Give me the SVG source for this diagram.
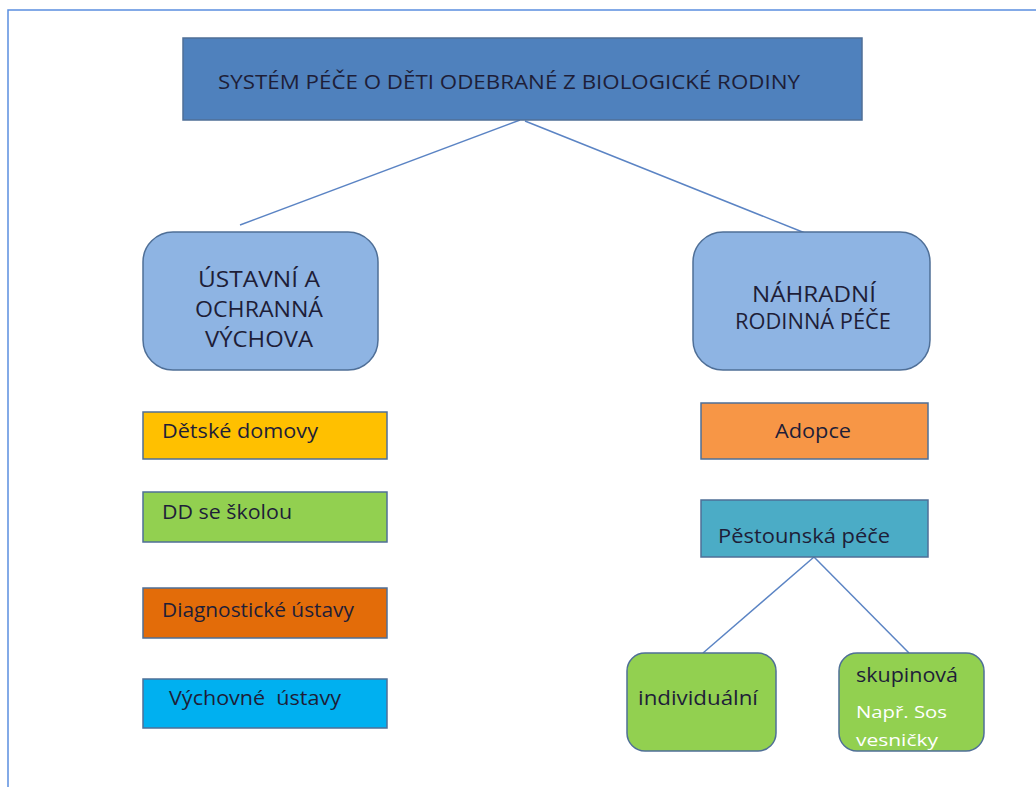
<svg xmlns="http://www.w3.org/2000/svg" width="1036" height="787" viewBox="0 0 1036 787">
<style>
text{font-family:"Open Sans","Noto Sans","Liberation Sans",sans-serif;fill:#1e1e38}
.bx{stroke:#4f6f97;stroke-width:1.5}
.conn line{stroke:#5b84c4;stroke-width:1.5}
.c{text-anchor:middle}
</style>
<rect width="1036" height="787" fill="#ffffff"/>
<path d="M8 787 V10 H1036" fill="none" stroke="#5b8fe0" stroke-width="1.5"/>
<g class="conn">
<line x1="520" y1="120" x2="240" y2="225"/>
<line x1="525" y1="121" x2="805" y2="233"/>
<line x1="814" y1="557" x2="703" y2="653"/>
<line x1="814" y1="557" x2="909" y2="653"/>
</g>
<g id="root">
<rect class="bx" x="183" y="38" width="679" height="82" fill="#4f81bd" stroke="#3d6796"/>
<text x="218" y="89" font-size="20" textLength="582" lengthAdjust="spacingAndGlyphs">SYSTÉM PÉČE O DĚTI ODEBRANÉ Z BIOLOGICKÉ RODINY</text>
</g>
<g id="ustavni">
<rect class="bx" x="143" y="232" width="235" height="138" rx="30" fill="#8eb4e3"/>
<text class="c" x="259" y="287" font-size="21" textLength="122" lengthAdjust="spacingAndGlyphs">ÚSTAVNÍ A</text>
<text class="c" x="259" y="317" font-size="21" textLength="128" lengthAdjust="spacingAndGlyphs">OCHRANNÁ</text>
<text class="c" x="259" y="347" font-size="21" textLength="108" lengthAdjust="spacingAndGlyphs">VÝCHOVA</text>
</g>
<g id="nahradni">
<rect class="bx" x="693" y="232" width="237" height="138" rx="30" fill="#8eb4e3"/>
<text class="c" x="814" y="302" font-size="21" textLength="124" lengthAdjust="spacingAndGlyphs">NÁHRADNÍ</text>
<text class="c" x="813" y="329" font-size="21" textLength="156" lengthAdjust="spacingAndGlyphs">RODINNÁ PÉČE</text>
</g>
<g id="detske">
<rect class="bx" x="143" y="412" width="244" height="47" fill="#ffc000"/>
<text x="162" y="438" font-size="20" textLength="156" lengthAdjust="spacingAndGlyphs">Dětské domovy</text>
</g>
<g id="ddskola">
<rect class="bx" x="143" y="492" width="244" height="50" fill="#92d050"/>
<text x="162" y="519" font-size="20" textLength="130" lengthAdjust="spacingAndGlyphs">DD se školou</text>
</g>
<g id="diag">
<rect class="bx" x="143" y="588" width="244" height="50" fill="#e36c09"/>
<text x="162" y="617" font-size="20" textLength="192" lengthAdjust="spacingAndGlyphs">Diagnostické ústavy</text>
</g>
<g id="vychovne">
<rect class="bx" x="143" y="679" width="244" height="49" fill="#00b0f0"/>
<text x="169" y="705" font-size="20" textLength="172" lengthAdjust="spacingAndGlyphs" xml:space="preserve">Výchovné  ústavy</text>
</g>
<g id="adopce">
<rect class="bx" x="701" y="403" width="227" height="56" fill="#f79646"/>
<text class="c" x="813" y="438" font-size="20" textLength="76" lengthAdjust="spacingAndGlyphs">Adopce</text>
</g>
<g id="pestounska">
<rect class="bx" x="701" y="500" width="227" height="57" fill="#4bacc6"/>
<text x="718" y="543" font-size="20" textLength="172" lengthAdjust="spacingAndGlyphs">Pěstounská péče</text>
</g>
<g id="individualni">
<rect class="bx" x="627" y="653" width="149" height="98" rx="18" fill="#92d050"/>
<text x="638" y="705" font-size="20" textLength="120" lengthAdjust="spacingAndGlyphs">individuální</text>
</g>
<g id="skupinova">
<rect class="bx" x="839" y="653" width="145" height="98" rx="18" fill="#92d050"/>
<text x="856" y="682" font-size="20" textLength="102" lengthAdjust="spacingAndGlyphs">skupinová</text>
<text x="856" y="718" font-size="17" style="fill:#ffffff" textLength="91" lengthAdjust="spacingAndGlyphs">Např. Sos</text>
<text x="856" y="746" font-size="17" style="fill:#ffffff" textLength="82" lengthAdjust="spacingAndGlyphs">vesničky</text>
</g>
</svg>
